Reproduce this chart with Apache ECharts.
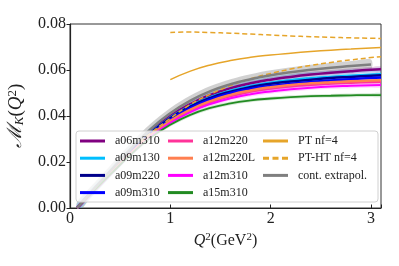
<!DOCTYPE html>
<html><head><meta charset="utf-8">
<script src="https://cdn.jsdelivr.net/npm/echarts@6/dist/echarts.min.js"></script>
<style>html,body{margin:0;padding:0;background:#fff}#c{width:399px;height:266px}</style>
</head><body><div id="c"></div>
<script>
// ---- data ----
const Q2 = [0.07, 0.2, 0.4, 0.6, 0.8, 1.0, 1.2, 1.4, 1.6, 1.8, 2.0, 2.2, 2.4, 2.6, 2.8, 3.0, 3.1];
const a06m310  = [0, 0.0062, 0.0155, 0.0248, 0.0332, 0.0400, 0.0452, 0.0492, 0.0521, 0.0542, 0.0558, 0.0570, 0.0580, 0.0588, 0.0595, 0.0601, 0.0603];
const a09m130  = [0, 0.0060, 0.0152, 0.0244, 0.0327, 0.0393, 0.0444, 0.0482, 0.0510, 0.0530, 0.0545, 0.0556, 0.0564, 0.0570, 0.0575, 0.0579, 0.0581];
const a09m220  = [0, 0.0061, 0.0152, 0.0243, 0.0325, 0.0391, 0.0441, 0.0479, 0.0506, 0.0526, 0.0540, 0.0550, 0.0558, 0.0565, 0.0570, 0.0575, 0.0577];
const a09m310  = [0, 0.0060, 0.0150, 0.0240, 0.0320, 0.0385, 0.0435, 0.0473, 0.0500, 0.0519, 0.0531, 0.0540, 0.0548, 0.0554, 0.0560, 0.0565, 0.0567];
const a12m220  = [0, 0.0058, 0.0146, 0.0234, 0.0312, 0.0375, 0.0424, 0.0460, 0.0487, 0.0506, 0.0519, 0.0529, 0.0536, 0.0541, 0.0545, 0.0548, 0.0549];
const a12m220L = [0, 0.0059, 0.0148, 0.0236, 0.0315, 0.0379, 0.0428, 0.0465, 0.0492, 0.0511, 0.0525, 0.0535, 0.0542, 0.0547, 0.0551, 0.0554, 0.0555];
const a12m310  = [0, 0.0058, 0.0145, 0.0231, 0.0308, 0.0370, 0.0417, 0.0452, 0.0477, 0.0495, 0.0507, 0.0516, 0.0523, 0.0528, 0.0531, 0.0534, 0.0535];
const a15m310  = [0, 0.0058, 0.0145, 0.0230, 0.0305, 0.0362, 0.0405, 0.0435, 0.0455, 0.0468, 0.0476, 0.0482, 0.0486, 0.0488, 0.0490, 0.0491, 0.0491];
// band half-widths
const err06  = [0.0010, 0.0010, 0.0010, 0.0010, 0.0010, 0.0010, 0.0010, 0.0011, 0.0011, 0.0011, 0.0011, 0.0012, 0.0012, 0.0012, 0.0012, 0.0012, 0.0012];
const err130 = [0.0020, 0.0020, 0.0021, 0.0022, 0.0023, 0.0024, 0.0025, 0.0025, 0.0026, 0.0026, 0.0026, 0.0027, 0.0027, 0.0027, 0.0027, 0.0027, 0.0027];
const err220 = [0.0008, 0.0008, 0.0008, 0.0008, 0.0009, 0.0009, 0.0009, 0.0009, 0.0010, 0.0010, 0.0010, 0.0010, 0.0010, 0.0010, 0.0010, 0.0010, 0.0010];
const err310 = [0.0012, 0.0012, 0.0013, 0.0014, 0.0015, 0.0016, 0.0017, 0.0017, 0.0018, 0.0018, 0.0018, 0.0018, 0.0018, 0.0018, 0.0018, 0.0018, 0.0018];
const err12a = [0.0008, 0.0008, 0.0008, 0.0008, 0.0008, 0.0009, 0.0009, 0.0009, 0.0009, 0.0009, 0.0009, 0.0009, 0.0009, 0.0009, 0.0009, 0.0009, 0.0009];
const err12L = [0.0006, 0.0006, 0.0006, 0.0006, 0.0006, 0.0007, 0.0007, 0.0007, 0.0007, 0.0007, 0.0007, 0.0007, 0.0007, 0.0007, 0.0007, 0.0007, 0.0007];
const err12c = [0.0008, 0.0008, 0.0008, 0.0008, 0.0009, 0.0009, 0.0009, 0.0010, 0.0010, 0.0010, 0.0010, 0.0010, 0.0010, 0.0010, 0.0010, 0.0010, 0.0010];
const err15  = [0.0008, 0.0008, 0.0008, 0.0008, 0.0008, 0.0008, 0.0008, 0.0008, 0.0008, 0.0008, 0.0008, 0.0008, 0.0008, 0.0008, 0.0008, 0.0008, 0.0008];
// continuum extrapolation
const Q2cont = [0.07, 0.2, 0.4, 0.6, 0.8, 1.0, 1.2, 1.4, 1.6, 1.8, 2.0, 2.2, 2.4, 2.6, 2.8, 3.0];
const cont    = [0, 0.0065, 0.0160, 0.0255, 0.0342, 0.0412, 0.0467, 0.0508, 0.0538, 0.0560, 0.0577, 0.0590, 0.0601, 0.0610, 0.0617, 0.0624];
const errCont = [0.0025, 0.0025, 0.0024, 0.0024, 0.0023, 0.0023, 0.0022, 0.0022, 0.0022, 0.0022, 0.0022, 0.0022, 0.0022, 0.0022, 0.0022, 0.0022];
// perturbation theory
const Q2pt = [1.0, 1.2, 1.4, 1.6, 1.8, 2.0, 2.2, 2.4, 2.6, 2.8, 3.0, 3.1];
const PT     = [0.0558, 0.0595, 0.0622, 0.0641, 0.0655, 0.0665, 0.0673, 0.0680, 0.0686, 0.0691, 0.0696, 0.0698];
const PTHTup = [0.0763, 0.0765, 0.0763, 0.0760, 0.0756, 0.0752, 0.0748, 0.0745, 0.0742, 0.0740, 0.0738, 0.0737];
const Q2ht = [0.7, 0.8, 1.0, 1.2, 1.4, 1.6, 1.8, 2.0, 2.2, 2.4, 2.6, 2.8, 3.0, 3.1];
const PTHTlo = [0.0290, 0.0325, 0.0390, 0.0450, 0.0495, 0.0532, 0.0562, 0.0585, 0.0604, 0.0620, 0.0633, 0.0644, 0.0654, 0.0658];
const xTicks = [0, 1, 2, 3];
const yTicks = [0.00, 0.02, 0.04, 0.06, 0.08];

// ---- build ----
const pairs = (xs, ys) => xs.map((x, i) => [x, ys[i]]);
const series = [];
function band(xs, ys, es, color, op) {
  const data = xs.map((x, i) => [x, ys[i] - es[i], ys[i] + es[i]]);
  series.push({
    type: 'custom', silent: true, clip: true, z: 1, data: data,
    encode: { x: 0, y: [1, 2] },
    renderItem: function (params, api) {
      if (params.dataIndex !== 0) return null;
      const up = data.map(d => api.coord([d[0], d[2]]));
      const lo = data.map(d => api.coord([d[0], d[1]])).reverse();
      return { type: 'polygon', shape: { points: up.concat(lo), smooth: 0.3 }, style: { fill: color, opacity: op } };
    }
  });
}
function line(name, xs, ys, color, width, type, z) {
  series.push({ type: 'line', name: name, data: pairs(xs, ys), smooth: true, symbol: 'none', showSymbol: false,
    lineStyle: { color: color, width: width, type: type || 'solid' }, itemStyle: { color: color }, z: z || 2 });
}
band(Q2cont, cont, errCont, '#9a9a9a', 0.45);
band(Q2, a06m310, err06, '#800080', 0.22);
band(Q2, a09m130, err130, '#00bfff', 0.18);
band(Q2, a09m220, err220, '#00008b', 0.18);
band(Q2, a09m310, err310, '#4040ff', 0.22);
band(Q2, a12m220, err12a, '#ff1493', 0.18);
band(Q2, a12m220L, err12L, '#ff7f50', 0.18);
band(Q2, a12m310, err12c, '#ff00ff', 0.18);
band(Q2, a15m310, err15, '#228b22', 0.18);
line('a06m310', Q2, a06m310, '#800080', 2.5);
line('a09m130', Q2, a09m130, '#00bfff', 2.5);
line('a09m220', Q2, a09m220, '#00008b', 2.5);
line('a09m310', Q2, a09m310, '#0000ff', 2.5);
line('a12m220', Q2, a12m220, '#ff3399', 2.5);
line('a12m220L', Q2, a12m220L, '#ff7f50', 2.5);
line('a12m310', Q2, a12m310, '#ff00ff', 2);
line('a15m310', Q2, a15m310, '#228b22', 1.8);
line('PT nf=4', Q2pt, PT, '#e6a52a', 1.5);
line('PT-HT nf=4', Q2pt, PTHTup, '#e6a52a', 1.5, [5, 3]);
line('PT-HT nf=4', Q2ht, PTHTlo, '#e6a52a', 1.5, [5, 3]);
line('cont. extrapol.', Q2cont, cont, '#7f7f7f', 2.5);

const serif = 'Liberation Serif';
const bar = 'path://M0,0h25v3h-25z';
const dash = 'path://M0,0h6v3h-6zM9.5,0h6v3h-6zM19,0h6v3h-6z';
const legBase = { orient: 'vertical', top: 134, itemWidth: 25, itemHeight: 3, itemGap: 3.2, padding: 0,
  textStyle: { fontFamily: serif, fontSize: 12, color: '#222', padding: [0, 0, 0, 5], lineHeight: 14 } };
const item = (n, ic) => ({ name: n, icon: ic || bar });

const chart = echarts.init(document.getElementById('c'), null, { renderer: 'canvas' });
chart.setOption({
  animation: false,
  backgroundColor: '#fff',
  grid: { left: 70, right: 18, top: 24, bottom: 58, show: true, borderColor: '#333', borderWidth: 1,
    containLabel: false, outerBoundsMode: 'none' },
  xAxis: {
    type: 'value', min: 0, max: 3.1, interval: 1,
    name: '{q|Q}{s|2}{t|(GeV}{s|2}{t|)}', nameLocation: 'middle', nameGap: 22,
    nameTextStyle: { fontFamily: serif, fontSize: 16, color: '#222',
      rich: { q: { fontFamily: serif, fontStyle: 'italic', fontSize: 16 }, s: { fontFamily: serif, fontSize: 11, verticalAlign: 'top', padding: [0, 0, 6, 0] }, t: { fontFamily: serif, fontSize: 16 } } },
    axisLine: { lineStyle: { color: '#222', width: 1.2 } },
    axisTick: { inside: true, length: 3.5, lineStyle: { color: '#222' } },
    splitLine: { show: false },
    axisLabel: { fontFamily: serif, fontSize: 16, color: '#222', margin: 3,
      formatter: v => xTicks.includes(v) ? String(v) : '' }
  },
  yAxis: {
    type: 'value', min: 0, max: 0.08, interval: 0.02,
    name: '{m|ℳ}{k|K}{t|(}{q|Q}{s|2}{t|)}', nameLocation: 'middle', nameGap: 44, nameRotate: 90,
    nameTextStyle: { fontFamily: serif, fontSize: 19, color: '#222',
      rich: { m: { fontFamily: 'DejaVu Serif', fontStyle: 'italic', fontSize: 20 }, k: { fontFamily: serif, fontStyle: 'italic', fontSize: 13, verticalAlign: 'bottom', padding: [7, 0, 0, 0] },
        t: { fontFamily: serif, fontSize: 19 }, q: { fontFamily: serif, fontStyle: 'italic', fontSize: 19 }, s: { fontFamily: serif, fontSize: 13, verticalAlign: 'top', padding: [0, 0, 7, 0] } } },
    axisLine: { show: true, lineStyle: { color: '#222', width: 1.2 } },
    axisTick: { show: true, inside: false, length: 3.5, lineStyle: { color: '#222' } },
    splitLine: { show: false },
    axisLabel: { fontFamily: serif, fontSize: 16, color: '#222', margin: 4,
      formatter: v => { const t = yTicks.find(y => Math.abs(y - v) < 1e-9); return t === undefined ? '' : t.toFixed(2); } }
  },
  graphic: [{ type: 'rect', shape: { x: 76, y: 131, width: 302, height: 71, r: 3 },
    style: { fill: 'rgba(255,255,255,0.8)', stroke: '#d0d0d0', lineWidth: 1 }, z: 3 }],
  legend: [
    Object.assign({}, legBase, { left: 80, data: [item('a06m310'), item('a09m130'), item('a09m220'), item('a09m310')] }),
    Object.assign({}, legBase, { left: 168, data: [item('a12m220'), item('a12m220L'), item('a12m310'), item('a15m310')] }),
    Object.assign({}, legBase, { left: 263, data: [item('PT nf=4'), item('PT-HT nf=4', dash), item('cont. extrapol.')] })
  ],
  series: series
});
</script></body></html>
